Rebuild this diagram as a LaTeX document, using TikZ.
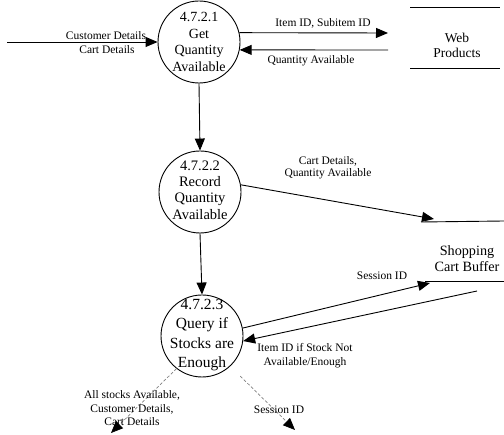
\documentclass[tikz,border=0pt]{standalone}
\usepackage{fontspec}
\setmainfont{Liberation Serif}
\usetikzlibrary{arrows.meta}
\begin{document}
\begin{tikzpicture}[x=1pt,y=-1pt,
  line width=0.9pt,
  proc/.style={draw, circle, minimum size=82pt, inner sep=0pt},
  ptext/.style={align=center, inner sep=0pt},
  lbl/.style={font=\fontsize{11.5}{12.5}\selectfont, align=center, inner sep=0pt},
  flow/.style={-{Triangle[length=12pt,width=10pt]}},
  dflow/.style={draw=gray, dash pattern=on 3pt off 2pt, line width=0.7pt,
    -{Triangle[length=12pt,width=10pt,color=black]}},
  sto/.style={align=center, inner sep=0pt}
]
\useasboundingbox (0,0) rectangle (504,435);

% processes
\node[proc] (p1) at (199,42) {};
\node[ptext, font=\fontsize{14}{16.7}\selectfont] (t1) at (p1) {4.7.2.1\\Get\\Quantity\\Available};
\node[proc] (p2) at (200,192) {};
\node[ptext, font=\fontsize{14.5}{16.4}\selectfont] (t2) at (200,190) {4.7.2.2\\Record\\Quantity\\Available};
\node[proc] (p3) at (202,336) {};
\node[ptext, font=\fontsize{15.5}{19.2}\selectfont] (t3) at (202,335) {4.7.2.3\\Query if\\Stocks are\\Enough};

% data stores
\node[sto, font=\fontsize{13.5}{15}\selectfont] (wp) at (457,45.5) {Web\\Products};
\coordinate (wpT1) at (410,7);  \coordinate (wpT2) at (500,7);
\coordinate (wpB1) at (410,68); \coordinate (wpB2) at (500,68);
\draw (wpT1) -- (wpT2);
\draw (wpB1) -- (wpB2);

\coordinate (cs1) at (421,222); \coordinate (cs2) at (504,221);
\draw (cs1) -- (cs2);

\node[sto, font=\fontsize{14.2}{16}\selectfont] (scb) at (467,259) {Shopping\\Cart Buffer};
\coordinate (sc1) at (425,281); \coordinate (sc2) at (504,281);
\draw (sc1) -- (sc2);

% input
\coordinate (in) at (7,42);
\draw[flow] (in) -- (p1.west);
\node[lbl] (lin1) at (106,36) {Customer Details};
\node[lbl] (lin2) at (107,50) {Cart Details};

% process 1 <-> web products
\coordinate (wpA) at (388,33);
\coordinate (wpB) at (388,50);
\draw[flow] (p1.13) -- (wpA);
\draw[flow] (wpB) -- (p1.-11);
\node[lbl] (l1) at (323,23) {Item ID, Subitem ID};
\node[lbl] (l2) at (311,61) {Quantity Available};

% vertical flows
\draw[flow] (p1.south) -- (p2.north);
\draw[flow] (p2.south) -- (p3.north);

% process 2 -> store
\coordinate (csA) at (434,219);
\draw[flow] (p2.10) -- (csA);
\node[lbl, font=\fontsize{11.5}{11.5}\selectfont] (l3) at (328,168) {Cart Details,\\Quantity Available};

% process 3 <-> shopping cart buffer
\coordinate (sA) at (430,283);
\coordinate (sB) at (477,291);
\draw[flow] (p3.11) -- (sA);
\draw[flow] (sB) -- (p3.-7);
\node[lbl] (l4) at (382,276) {Session ID};
\node[lbl, font=\fontsize{11.5}{14}\selectfont] (l5) at (305,356) {Item ID if Stock Not\\Available/Enough};

% outputs
\coordinate (oA) at (111,433);
\coordinate (oB) at (295,430);
\draw[dflow] (p3.232) -- (oA);
\draw[dflow, shorten <=14pt] (p3.-47) -- (oB);
\node[lbl, font=\fontsize{11.5}{13.5}\selectfont] (l6) at (132,408.5) {All stocks Available,\\Customer Details,\\Cart Details};
\node[lbl] (l7) at (279,410) {Session ID};
\end{tikzpicture}
\end{document}
